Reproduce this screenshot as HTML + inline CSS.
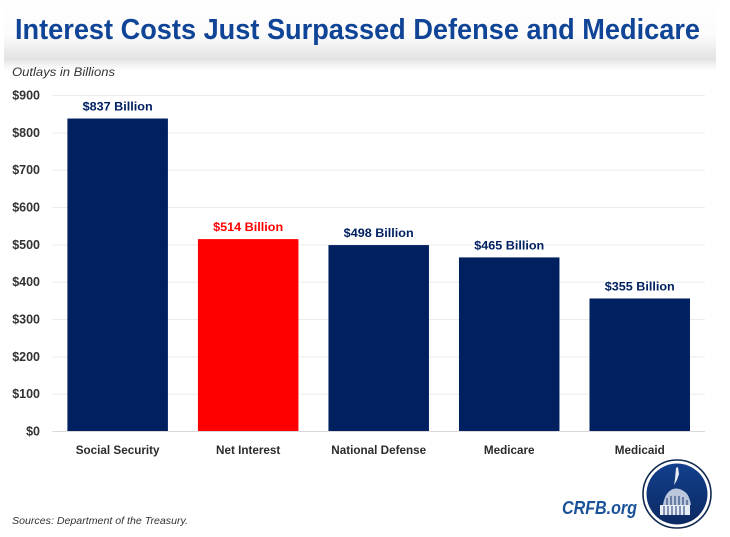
<!DOCTYPE html>
<html>
<head>
<meta charset="utf-8">
<title>Interest Costs Just Surpassed Defense and Medicare</title>
<style>
html,body{margin:0;padding:0;background:#fff;}
body{width:730px;height:537px;overflow:hidden;}
svg{display:block;}
text{font-family:"Liberation Sans",sans-serif;}
</style>
</head>
<body>
<svg id="chart" xmlns="http://www.w3.org/2000/svg" width="730" height="537" viewBox="0 0 730 537">
  <defs>
    <linearGradient id="headerGrad" x1="0" y1="0" x2="0" y2="1">
      <stop offset="0" stop-color="#ffffff"/>
      <stop offset="0.6" stop-color="#fbfbfb"/>
      <stop offset="1" stop-color="#e2e2e2"/>
    </linearGradient>
    <linearGradient id="shadowGrad" x1="0" y1="0" x2="0" y2="1">
      <stop offset="0" stop-color="#e8e8e8"/>
      <stop offset="1" stop-color="#ffffff"/>
    </linearGradient>
    <linearGradient id="logoGrad" x1="0" y1="0" x2="0" y2="1">
      <stop offset="0" stop-color="#123f8c"/>
      <stop offset="1" stop-color="#0c2a63"/>
    </linearGradient>
  </defs>
  <rect x="4" y="0" width="712" height="60" fill="url(#headerGrad)"/>
  <rect x="4" y="60" width="712" height="11" fill="url(#shadowGrad)"/>
  <text x="15" y="39" font-size="29" font-weight="bold" fill="#0f4496" textLength="685" lengthAdjust="spacingAndGlyphs">Interest Costs Just Surpassed Defense and Medicare</text>
  <text x="12" y="76" font-size="11.5" font-style="italic" fill="#333333" textLength="103" lengthAdjust="spacingAndGlyphs">Outlays in Billions</text>
  <g id="gridlines"></g>
  <g id="bars"></g>
  <g id="labels"></g>
  <text x="12" y="524" font-size="10" font-style="italic" fill="#333333" textLength="176" lengthAdjust="spacingAndGlyphs">Sources: Department of the Treasury.</text>
  <text x="562" y="514" font-size="18.5" font-weight="bold" font-style="italic" fill="#1a5299" textLength="75" lengthAdjust="spacingAndGlyphs">CRFB.org</text>
  <g>
    <circle cx="677" cy="494" r="34" fill="#ffffff" stroke="#10294f" stroke-width="1.6"/>
    <circle cx="677" cy="494" r="30.5" fill="url(#logoGrad)"/>
    <path d="M676 468l2-1 1 7-2 6-3 5 1-6z" fill="#e8edf5"/>
    <path d="M660 515v-10h30v10z" fill="#e8edf5"/>
    <path d="M663 505c1-6 3-12 8-15 5-3 10-1 14 2 3 2 5 7 6 13z" fill="#b9c6dc"/>
    <path d="M667 505v-7M671 505v-9M675 505v-9M679 505v-9M683 505v-8M687 505v-5" stroke="#17376f" stroke-width="1"/>
    <path d="M664 515v-9M668 515v-9M672 515v-9M676 515v-9M680 515v-9M684 515v-9" stroke="#17376f" stroke-width="1"/>
  </g>
  <script>
  <![CDATA[
    var categories = ["Social Security", "Net Interest", "National Defense", "Medicare", "Medicaid"];
    var outlays = [837, 514, 498, 465, 355];
    var valueLabels = ["$837 Billion", "$514 Billion", "$498 Billion", "$465 Billion", "$355 Billion"];
    var yTicks = [0, 100, 200, 300, 400, 500, 600, 700, 800, 900];
    var yTickLabels = ["$0", "$100", "$200", "$300", "$400", "$500", "$600", "$700", "$800", "$900"];
    var highlightCategory = "Net Interest";

    var NS = "http://www.w3.org/2000/svg";
    var plotLeft = 52.4, plotRight = 705, plotTop = 95, plotBottom = 431, yMax = 900;
    var bandWidth = (plotRight - plotLeft) / categories.length;
    var barWidth = 100.5;
    function yScale(v) { return plotBottom - (v / yMax) * (plotBottom - plotTop); }
    function xCenter(i) { return plotLeft + bandWidth * (i + 0.5); }
    function make(tag, attrs) {
      var el = document.createElementNS(NS, tag);
      for (var k in attrs) { el.setAttribute(k, attrs[k]); }
      return el;
    }
    var gridG = document.getElementById("gridlines");
    var barG = document.getElementById("bars");
    var labelG = document.getElementById("labels");

    yTicks.forEach(function (t, i) {
      var line = make("line", { x1: plotLeft, x2: plotRight, y1: yScale(t) + 0.5, y2: yScale(t) + 0.5, stroke: t === 0 ? "#d9d9d9" : "#ececec", "stroke-width": 1 });
      
      
      gridG.appendChild(line);
      var lab = make("text", { x: 40, y: yScale(t) + 4.5, "text-anchor": "end", "font-size": 12.5, "font-weight": "bold", fill: "#333333" });
      
      
      lab.textContent = yTickLabels[i];
      labelG.appendChild(lab);
    });

    categories.forEach(function (c, i) {
      var top = yScale(outlays[i]);
      var bar = make("rect", { x: xCenter(i) - barWidth / 2, y: top, width: barWidth, height: plotBottom - top, fill: c === highlightCategory ? "#ff0000" : "#002060" });
      
      
      barG.appendChild(bar);

      var val = make("text", { x: xCenter(i), y: top - 8, "text-anchor": "middle", "font-size": 12, "font-weight": "bold", fill: c === highlightCategory ? "#ff0000" : "#002060", textLength: 70, lengthAdjust: "spacingAndGlyphs" });
      
      
      val.textContent = valueLabels[i];
      labelG.appendChild(val);

      var cat = make("text", { x: xCenter(i), y: 454, "text-anchor": "middle", "font-size": 11.7, "font-weight": "bold", fill: "#2b2b2b" });
      
      
      cat.textContent = c;
      labelG.appendChild(cat);
    });
  ]]>
  </script>
</svg>
</body>
</html>
